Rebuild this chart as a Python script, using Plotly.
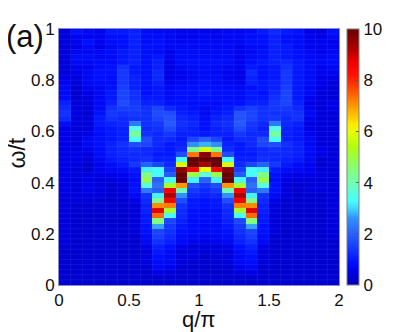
import plotly.graph_objects as go

n_q = 24
n_w = 50
q_centers = [(j + 0.5) * 2 / n_q for j in range(n_q)]
w_centers = [(n_w - 1 - i + 0.5) / n_w for i in range(n_w)]

# spectral weight, rows from omega = 1 (top) down to omega = 0 (bottom)
intensity = [
[.4,.9,.7,.6,1.0,1.0,1.1,.8,.7,.7,.6,.6,.6,.6,.7,.7,.8,1.0,1.2,1.0,.9,.5,.4,.9],
[.4,.6,.6,.6,.9,.9,1.1,.8,.8,.7,.6,.6,.7,.6,.7,.7,.8,.9,1.1,.9,.8,.6,.5,.7],
[.4,.6,.9,.6,.8,.9,1.1,.8,.9,.7,.7,.7,.7,.7,.7,.7,.9,.9,1.1,.9,.8,.6,.6,.6],
[.4,.5,.7,.5,.7,.9,1.1,.9,.9,.7,.7,.7,.7,.7,.7,.6,.8,.8,1.1,1.0,.8,.6,.6,.6],
[.4,.7,.7,.7,.8,1.0,1.1,.9,.8,.6,.8,.8,.8,.8,.8,.6,.7,.9,1.1,1.0,.9,.7,.6,.7],
[.4,.8,.8,.7,.8,1.0,1.1,.9,1.0,.6,.8,.8,.8,.8,.8,.6,.8,.9,1.1,1.0,.9,.8,.7,.8],
[.4,.7,.7,.8,.8,1.0,1.1,.9,1.1,.5,.8,.9,.9,.9,.8,.6,.9,1.0,1.1,1.2,1.0,.8,.7,.8],
[.4,.6,.6,.8,.9,1.3,1.0,.9,1.1,.5,.7,.8,.8,.8,.7,.6,1.0,.9,1.0,1.3,1.0,.8,.6,.7],
[.4,.5,.7,.9,.9,1.4,1.0,.9,1.2,.5,.6,.7,.8,.7,.6,.5,1.2,.9,1.0,1.4,1.0,.8,.6,.6],
[.5,.4,.7,.9,.8,1.4,1.1,.9,1.2,.5,.6,.7,.8,.8,.6,.5,1.1,.9,1.0,1.4,1.0,.8,.5,.5],
[.6,.4,.7,.8,.8,1.4,1.1,.9,1.1,.6,.7,.8,.9,.8,.7,.6,1.1,1.0,1.1,1.4,1.0,.8,.5,.4],
[.7,.3,.6,.7,.9,1.5,1.1,.9,1.0,.7,.8,.9,.9,.9,.8,.7,.9,1.0,1.1,1.5,1.0,.7,.5,.4],
[.7,.3,.5,.7,1.0,1.6,1.3,.9,1.0,.8,.9,.9,1.0,.9,.9,.8,1.0,.9,1.2,1.6,1.0,.7,.4,.4],
[.8,.3,.4,.7,1.0,1.6,1.3,1.0,1.0,.8,.9,.9,.9,.9,.9,.8,1.0,1.0,1.3,1.6,1.0,.6,.4,.4],
[1.1,.4,.4,.7,1.1,1.7,1.4,1.1,1.1,.9,.9,.8,.8,.8,.9,.9,1.1,1.1,1.4,1.6,1.1,.5,.4,.5],
[1.2,.4,.4,.8,1.3,1.5,1.5,1.3,1.6,1.2,1.0,.9,.7,.9,1.0,1.3,1.5,1.3,1.4,1.4,1.2,.6,.4,.5],
[1.3,.4,.3,.9,1.4,1.3,1.4,1.3,1.7,1.7,1.1,1.0,.7,1.0,1.1,1.8,1.6,1.3,1.3,1.3,1.3,.7,.4,.4],
[1.2,.4,.4,1.0,1.3,1.2,1.3,1.3,1.6,1.8,1.2,1.1,.8,1.1,1.2,1.8,1.6,1.3,1.4,1.2,1.3,.6,.4,.4],
[.8,.4,.4,1.0,1.1,1.2,2.3,1.3,1.4,1.9,1.3,1.2,.9,1.2,1.3,1.9,1.4,1.2,2.3,1.2,1.1,.5,.4,.4],
[.5,.4,.4,.9,1.0,1.1,3.5,1.2,1.3,1.7,1.2,1.1,.9,1.1,1.2,1.7,1.3,1.1,3.5,1.1,1.0,.5,.4,.4],
[.5,.4,.5,.8,1.0,1.1,4.2,1.3,1.2,1.4,1.1,1.1,1.0,1.1,1.1,1.4,1.2,1.2,4.2,1.1,1.0,.6,.4,.4],
[.5,.4,.7,.9,1.0,1.1,3.3,1.7,1.2,1.2,1.0,1.6,2.0,1.6,1.0,1.2,1.2,1.7,3.3,1.1,1.0,.7,.4,.4],
[.5,.4,.7,.9,1.1,1.3,1.7,1.6,1.2,1.0,1.1,2.6,2.8,2.6,1.1,1.0,1.2,1.6,1.7,1.3,1.1,.7,.4,.4],
[.5,.5,.6,.8,1.1,1.2,1.3,1.2,1.1,1.0,1.2,4.4,5.8,4.4,1.2,1.0,1.1,1.2,1.3,1.2,1.1,.8,.5,.4],
[.5,.5,.4,.8,1.1,1.2,1.2,1.2,1.0,1.0,1.7,7.3,9.6,7.3,1.7,1.0,1.0,1.2,1.2,1.2,1.1,.7,.5,.4],
[.5,.5,.4,.7,1.0,1.1,1.2,1.3,1.1,1.1,3.3,10,10,10,3.3,1.1,1.1,1.3,1.2,1.1,1.0,.7,.3,.4],
[.5,.4,.3,.6,.8,1.0,1.4,2.0,1.6,1.2,5.8,10,9.3,10,5.8,1.2,1.6,2.0,1.4,1.0,.8,.6,.3,.4],
[.5,.4,.3,.6,.7,.8,1.0,3.2,3.3,1.5,9.6,8.5,6.0,8.5,9.6,1.5,3.3,3.2,1.0,.8,.7,.6,.4,.4],
[.5,.4,.4,.5,.5,.6,.9,4.4,3.3,1.9,10,5.0,3.7,5.0,10,1.9,3.3,4.4,.9,.6,.5,.5,.4,.4],
[.5,.4,.5,.4,.4,.5,.8,4.9,2.0,3.3,10,3.2,2.0,3.2,10,3.3,2.0,4.9,.8,.5,.4,.4,.4,.4],
[.5,.4,.5,.4,.3,.4,.9,3.5,2.2,5.3,7.0,1.7,1.4,1.7,7.0,5.3,2.2,3.5,.9,.4,.3,.4,.4,.4],
[.5,.4,.5,.4,.3,.4,.9,2.3,2.0,8.6,4.0,1.4,1.2,1.4,4.0,8.6,2.0,2.3,.9,.4,.3,.4,.4,.4],
[.4,.4,.4,.4,.3,.4,.7,1.3,3.2,9.2,2.6,1.2,1.1,1.2,2.6,9.2,3.2,1.3,.7,.4,.3,.3,.3,.4],
[.4,.4,.4,.3,.3,.3,.5,1.2,4.3,8.6,1.7,1.0,.9,1.0,1.7,8.6,4.3,1.2,.5,.3,.3,.3,.3,.4],
[.4,.3,.3,.3,.3,.3,.4,1.1,7.1,7.2,1.3,1.0,.9,1.0,1.3,7.2,7.1,1.1,.4,.3,.3,.3,.3,.4],
[.4,.3,.3,.3,.3,.3,.4,1.1,8.8,5.2,1.2,.9,.8,.9,1.2,5.2,8.8,1.1,.4,.3,.3,.3,.3,.4],
[.4,.3,.3,.3,.3,.3,.4,1.0,7.4,3.3,1.2,.9,.8,.9,1.2,3.3,7.4,1.0,.4,.3,.3,.3,.3,.4],
[.4,.3,.3,.3,.3,.3,.4,1.0,4.5,1.6,1.1,.8,.8,.8,1.1,1.6,4.5,1.0,.4,.3,.3,.3,.3,.4],
[.4,.3,.3,.3,.3,.3,.4,.9,2.7,1.4,1.0,.8,.7,.8,1.0,1.4,2.7,.9,.4,.3,.3,.3,.3,.4],
[.4,.3,.3,.3,.3,.3,.4,.9,1.6,1.3,.9,.8,.7,.8,.9,1.3,1.6,.9,.4,.3,.3,.3,.3,.4],
[.4,.3,.3,.3,.3,.3,.3,.8,1.5,1.2,.8,.7,.6,.7,.8,1.2,1.5,.8,.3,.3,.3,.3,.3,.4],
[.4,.3,.3,.3,.3,.3,.3,.7,1.3,1.1,.7,.6,.5,.6,.7,1.1,1.3,.7,.3,.3,.3,.3,.3,.3],
[.3,.3,.3,.3,.3,.3,.3,.5,1.1,.9,.5,.4,.4,.4,.5,.9,1.1,.5,.3,.3,.3,.3,.3,.3],
[.3,.3,.3,.3,.3,.3,.3,.4,1.0,.8,.4,.4,.4,.4,.4,.8,1.0,.4,.3,.3,.3,.3,.3,.3],
[.3,.3,.3,.3,.3,.3,.3,.4,.9,.7,.4,.4,.3,.4,.4,.7,.9,.4,.3,.3,.3,.3,.3,.3],
[.3,.3,.3,.3,.3,.3,.3,.4,.8,.7,.4,.3,.3,.3,.4,.7,.8,.4,.3,.3,.3,.3,.3,.3],
[.3,.3,.3,.3,.3,.3,.3,.3,.7,.6,.3,.3,.3,.3,.3,.6,.7,.3,.3,.3,.3,.3,.3,.3],
[.3,.3,.3,.3,.3,.3,.3,.3,.5,.4,.3,.3,.3,.3,.3,.4,.5,.3,.3,.3,.3,.3,.3,.3],
[.3,.3,.3,.3,.3,.3,.3,.3,.3,.3,.3,.3,.3,.3,.3,.3,.3,.3,.3,.3,.3,.3,.3,.3],
[.3,.3,.3,.3,.3,.3,.3,.3,.3,.3,.3,.3,.3,.3,.3,.3,.3,.3,.3,.3,.3,.3,.3,.3],
]

x_ticks = [0, 0.5, 1, 1.5, 2]
x_labels = ["0", "0.5", "1", "1.5", "2"]
y_ticks = [0, 0.2, 0.4, 0.6, 0.8, 1]
y_labels = ["0", "0.2", "0.4", "0.6", "0.8", "1"]
bar_ticks = [0, 2, 4, 6, 8, 10]

scale = [
    [0.00, "#0000b8"], [0.03, "#0000d0"], [0.05, "#0000e8"], [0.09, "#0010ff"], [0.13, "#1030ff"], [0.20, "#2a60fa"],
    [0.26, "#3090ff"], [0.30, "#40d8ff"], [0.33, "#48ffff"], [0.40, "#70ffb0"],
    [0.46, "#88ff70"], [0.54, "#b0ff10"], [0.60, "#e8ff00"], [0.63, "#ffe800"],
    [0.70, "#ff9800"], [0.76, "#ff5000"], [0.82, "#ff1000"], [0.87, "#f00000"],
    [0.92, "#b00000"], [1.00, "#680000"],
]

# the page body adds an 8 px margin around the figure
PAGE = 8
LEFT, RIGHT, TOP, BOTTOM = 58.5 - PAGE, 339.0 - PAGE, 24.5 - PAGE, 285.0 - PAGE
W, H = 407 - PAGE, 332 - PAGE
FONT = "Liberation Sans"

fig = go.Figure(go.Heatmap(
    x=q_centers, y=w_centers, z=intensity, zmin=0, zmax=10, colorscale=scale,
    zsmooth=False,
    colorbar=dict(
        x=(347 - PAGE - LEFT) / (RIGHT - LEFT), xanchor="left", xpad=0, ypad=0,
        y=0, yanchor="bottom", len=1, lenmode="fraction", thickness=12,
        thicknessmode="pixels", tickvals=bar_ticks, ticks="inside", ticklen=3,
        tickcolor="#555555", tickfont=dict(family=FONT, size=17, color="#111111"),
        outlinecolor="#808080", outlinewidth=1,
    ),
))

edge = "rgba(150,160,255,0.11)"
shapes = []
for j in range(1, n_q):
    shapes.append(dict(type="line", xref="x", yref="paper", x0=j * 2 / n_q, x1=j * 2 / n_q,
                       y0=0, y1=1, line=dict(color=edge, width=1), layer="above"))
for i in range(1, n_w):
    shapes.append(dict(type="line", xref="paper", yref="y", y0=i / n_w, y1=i / n_w,
                       x0=0, x1=1, line=dict(color=edge, width=1), layer="above"))

axis = dict(showgrid=False, zeroline=False, showline=True, mirror=True,
            linecolor="#8a8ac8", linewidth=1, ticks="",
            tickfont=dict(family=FONT, size=17, color="#111111"))

fig.update_layout(
    width=W, height=H, autosize=False,
    margin=dict(l=LEFT, r=W - RIGHT, t=TOP, b=H - BOTTOM, pad=0),
    paper_bgcolor="white", plot_bgcolor="white", shapes=shapes,
    xaxis=dict(axis, range=[0, 2], tickvals=x_ticks, ticktext=x_labels),
    yaxis=dict(axis, range=[0, 1], tickvals=y_ticks, ticktext=y_labels),
    annotations=[
        dict(text="(a)", xref="paper", yref="paper", x=-0.197, y=1.045, xanchor="left",
             yanchor="top", showarrow=False, font=dict(family=FONT, size=31, color="#111111")),
        dict(text="q/π", xref="paper", yref="paper", x=0.5, y=-0.08, xanchor="center",
             yanchor="top", showarrow=False, font=dict(family=FONT, size=22, color="#111111")),
        dict(text="ω/t", xref="paper", yref="paper", x=-0.095, y=0.515, xanchor="right",
             yanchor="middle", textangle=-90, showarrow=False,
             font=dict(family=FONT, size=23, color="#111111")),
    ],
)

fig.write_html("out.html")
